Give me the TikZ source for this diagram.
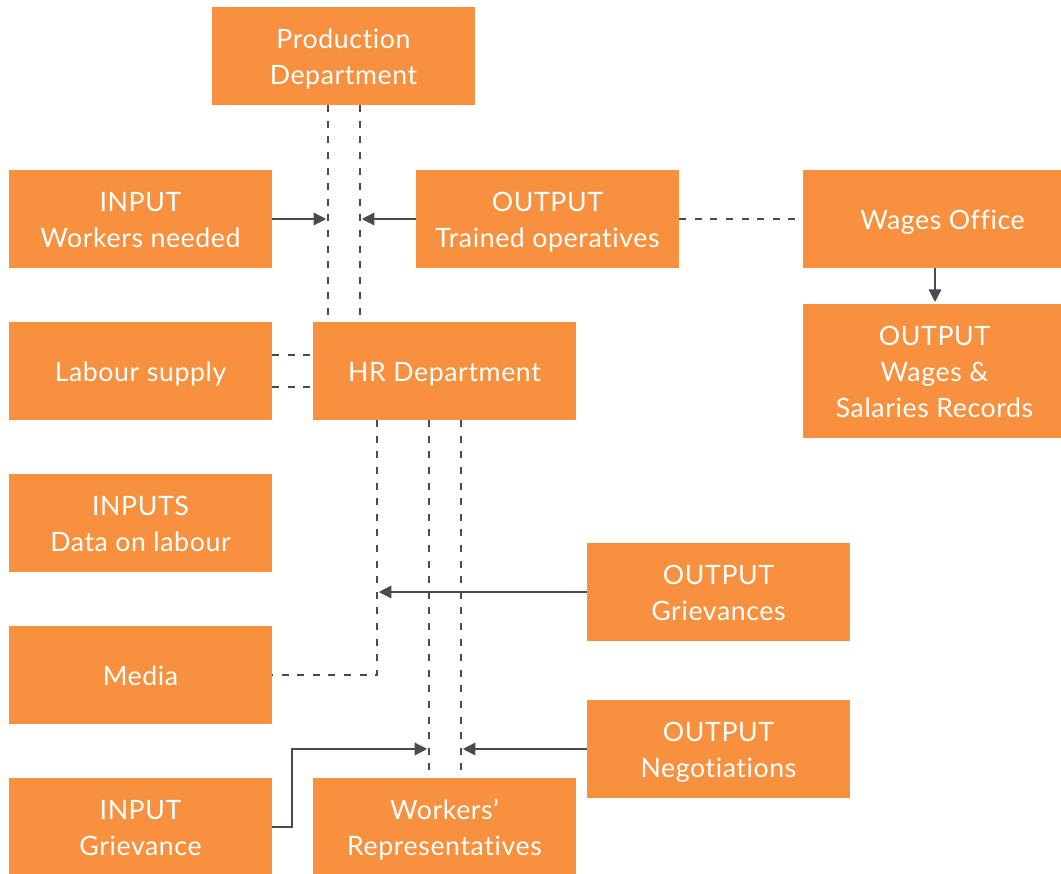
\documentclass[tikz,border=0pt]{standalone}
\usepackage{fontspec}
\setmainfont{Lato}[Ligatures={NoCommon}, LetterSpace=2.3]
\usetikzlibrary{arrows.meta}
\definecolor{boxorange}{HTML}{F7913F}
\definecolor{linegrey}{HTML}{4A4B4F}
\tikzset{
  box/.style={fill=boxorange, draw=none, text=white, align=center,
    minimum width=197.25pt, minimum height=73.5pt, inner sep=0pt,
    font=\fontsize{20}{27}\selectfont,
    % fixed text height and depth keep baselines uniform across boxes
    execute at begin node={\rule{0pt}{20pt}},
    execute at end node={\rule[-4.2pt]{0pt}{4.2pt}}},
  multi/.style={execute at begin node={\rule{0pt}{#1}}},
  multi/.default=47pt,
  dashline/.style={draw=linegrey, line width=2.1pt, dash pattern=on 5.2pt off 6.5pt},
  arr/.style={draw=linegrey, line width=2.1pt,
    -{Triangle[length=9.5pt,width=9pt]}, shorten >=1.2pt},
}
\begin{document}
\begin{tikzpicture}[x=0.75pt,y=-0.75pt]
\useasboundingbox (0,0) rectangle (1061,874);

% boxes
\node[box, multi] (prod)    at (343.5,56)  {Production\\Department};
\node[box, multi] (wn)      at (140.5,219) {INPUT\\Workers needed};
\node[box, multi] (trained) at (547.5,219) {OUTPUT\\Trained operatives};
\node[box]        (wages)   at (934.5,219) {\hspace*{12pt}Wages Office};
\node[box, multi=74pt, minimum height=100.5pt] (wsr) at (934.5,371) {OUTPUT\\Wages \&\\Salaries Records};
\node[box]        (labour)  at (140.5,371) {Labour supply};
\node[box]        (hr)      at (444.5,371) {HR Department};
\node[box, multi] (data)    at (140.5,523) {INPUTS\\Data on labour};
\node[box, multi] (griev)   at (718.5,592) {OUTPUT\\Grievances};
\node[box]        (media)   at (140.5,675) {Media};
\node[box, multi] (nego)    at (718.5,749) {OUTPUT\\Negotiations};
\node[box, multi] (ingriev) at (140.5,827) {INPUT\\Grievance};
\node[box, multi] (reps)    at (444.5,827) {Workers’\\Representatives};

% guide positions for the vertical channels
\coordinate (c1) at (328,0);
\coordinate (c2) at (360,0);
\coordinate (c3) at (377,0);
\coordinate (c4) at (429,0);
\coordinate (c5) at (461,0);
\coordinate (c6) at (292,0);
\coordinate (wx) at (935,0);
\coordinate (ly1) at (0,355);
\coordinate (ly2) at (0,387);

% production <-> HR channel
\draw[dashline] (prod.south -| c1) -- (hr.north -| c1);
\draw[dashline] (prod.south -| c2) -- (hr.north -| c2);
\draw[arr] (wn.east) -- (wn.east -| c1);
\draw[arr] (trained.west) -- (trained.west -| c2);
\draw[dashline] (trained.east) -- (wages.west);
\draw[arr] (wages.south -| wx) -- (wsr.north -| wx);

% labour supply
\draw[dashline] (labour.east |- ly1) -- (hr.west |- ly1);
\draw[dashline] (labour.east |- ly2) -- (hr.west |- ly2);

% media link
\draw[dashline] (hr.south -| c3) -- (c3 |- media.east) -- (media.east);
\draw[arr] (griev.west) -- (griev.west -| c3);

% HR <-> workers' representatives channel
\draw[dashline] (hr.south -| c4) -- (reps.north -| c4);
\draw[dashline] (hr.south -| c5) -- (reps.north -| c5);
\draw[arr] (ingriev.east) -- (ingriev.east -| c6) -- (c6 |- nego.west) -- (nego.west -| c4);
\draw[arr] (nego.west) -- (nego.west -| c5);
\end{tikzpicture}
\end{document}
